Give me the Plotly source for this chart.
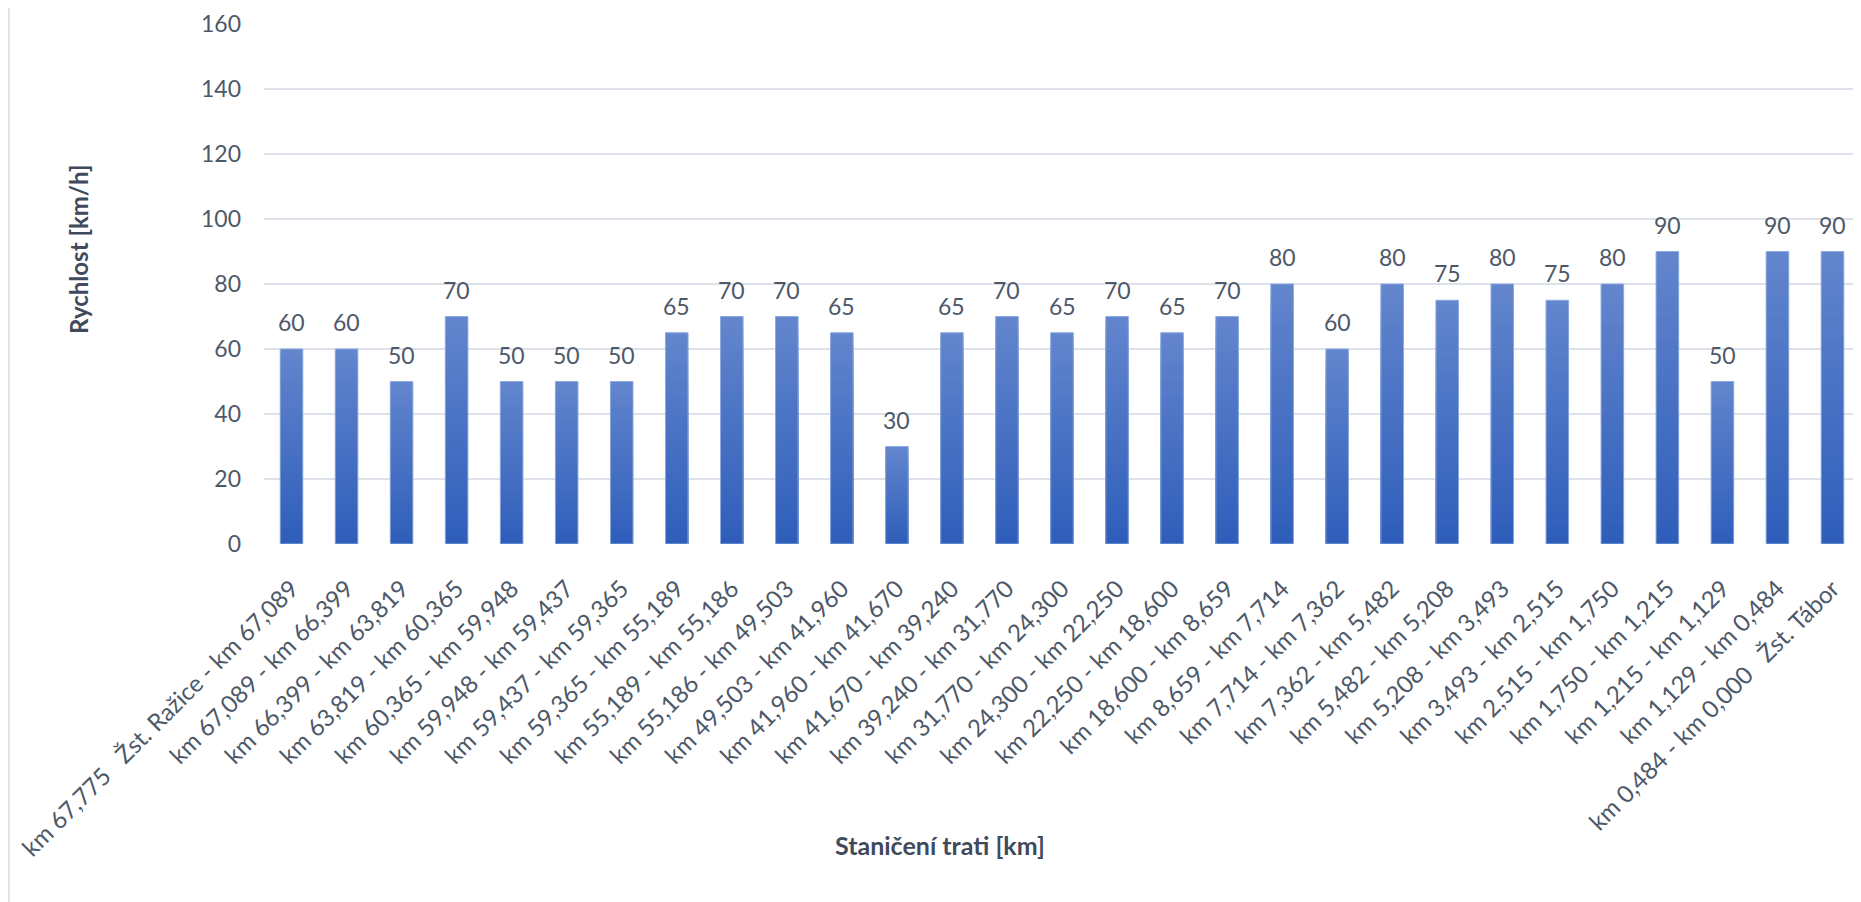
import plotly.graph_objects as go

NB = "\u00a0"
categories = [
    "km 67,775" + NB * 3 + "Žst. Ražice - km 67,089",
    "km 67,089 - km 66,399",
    "km 66,399 - km 63,819",
    "km 63,819 - km 60,365",
    "km 60,365 - km 59,948",
    "km 59,948 - km 59,437",
    "km 59,437 - km 59,365",
    "km 59,365 - km 55,189",
    "km 55,189 - km 55,186",
    "km 55,186 - km 49,503",
    "km 49,503 - km 41,960",
    "km 41,960 - km 41,670",
    "km 41,670 - km 39,240",
    "km 39,240 - km 31,770",
    "km 31,770 - km 24,300",
    "km 24,300 - km 22,250",
    "km 22,250 - km 18,600",
    "km 18,600 - km 8,659",
    "km 8,659 - km 7,714",
    "km 7,714 - km 7,362",
    "km 7,362 - km 5,482",
    "km 5,482 - km 5,208",
    "km 5,208 - km 3,493",
    "km 3,493 - km 2,515",
    "km 2,515 - km 1,750",
    "km 1,750 - km 1,215",
    "km 1,215 - km 1,129",
    "km 1,129 - km 0,484",
    "km 0,484 - km 0,000" + NB * 3 + "Žst. Tábor",
]
speeds = [60, 60, 50, 70, 50, 50, 50, 65, 70, 70, 65, 30, 65, 70, 65, 70, 65, 70,
          80, 60, 80, 75, 80, 75, 80, 90, 50, 90, 90]
y_ticks = [0, 20, 40, 60, 80, 100, 120, 140, 160]

TEXT = "#4d5868"
TITLE = "#3f4a5c"
FONT = "Lato"
TOP = (99, 133, 205)
BOTTOM = (46, 94, 186)

# figure sits at (8, 8) in the page (default body margin)
W, H = 1853, 894
L, R, T, B = 256, 1, 16, 358
pw, ph = W - L - R, H - T - B

fig = go.Figure()

# vertical gradient (light top -> dark bottom) via overlaid bars of the same data
N = 40
for i in range(N):
    f = 1 - i / N
    t = f - 0.5 / N
    col = tuple(round(BOTTOM[k] + (TOP[k] - BOTTOM[k]) * t) for k in range(3))
    fig.add_trace(go.Bar(
        x=categories, y=[v * f for v in speeds],
        marker=dict(color="rgb(%d,%d,%d)" % col, line=dict(width=0)),
        hoverinfo="skip", showlegend=False,
    ))
# outline + hover
fig.add_trace(go.Bar(
    x=categories, y=speeds,
    marker=dict(color="rgba(0,0,0,0)", line=dict(color="#8eaade", width=1)),
    showlegend=False, name="Rychlost",
))

for c, v in zip(categories, speeds):
    fig.add_annotation(x=c, y=v, text=str(v), showarrow=False, yanchor="bottom",
                       yshift=11, font=dict(family=FONT, size=23, color=TEXT))

fig.add_annotation(xref="paper", yref="paper", x=(70 - L) / pw, y=(H - B - 242) / ph,
                   text="<b>Rychlost [km/h]</b>", textangle=-90, showarrow=False,
                   xanchor="center", yanchor="middle",
                   font=dict(family=FONT, size=24, color=TITLE))
fig.add_annotation(xref="paper", yref="paper", x=(932 - L) / pw, y=(H - B - 837) / ph,
                   text="<b>Staničení trati [km]</b>", showarrow=False,
                   xanchor="center", yanchor="middle",
                   font=dict(family=FONT, size=25, color=TITLE))

fig.add_shape(type="line", xref="paper", yref="paper",
              x0=(1 - L) / pw, x1=(1 - L) / pw, y0=(H - B) / ph + 0.1, y1=-(B + 10) / ph,
              line=dict(color="#dfe3ea", width=2))

fig.update_layout(
    width=W, height=H,
    margin=dict(l=L, r=R, t=T, b=B, autoexpand=False),
    paper_bgcolor="white", plot_bgcolor="white",
    barmode="overlay", bargap=0.59,
    font=dict(family=FONT, size=23, color=TEXT),
    xaxis=dict(type="category", tickangle=-45, showgrid=False, showline=False,
               ticks="", ticklabelstandoff=25,
               tickfont=dict(family=FONT, size=24, color=TEXT)),
    yaxis=dict(range=[0, 160], tickvals=y_ticks, showgrid=True, gridcolor="#dde2ea",
               gridwidth=2, zeroline=False, showline=False, ticks="",
               ticklabelstandoff=22,
               tickfont=dict(family=FONT, size=23, color=TEXT)),
)

fig.write_html("out.html")
